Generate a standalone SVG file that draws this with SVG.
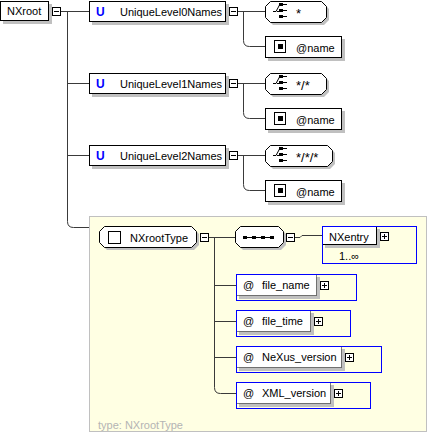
<svg xmlns="http://www.w3.org/2000/svg" width="429" height="434" viewBox="0 0 429 434">
<style>
text{font-family:"Liberation Sans",Arial,sans-serif;font-size:11px;fill:#000}
.box{fill:#fff;stroke:#000;stroke-width:1}
.sh{fill:#c0c0c0}
.blue{fill:none;stroke:#0000ff;stroke-width:1}
.inner{fill:#fff;stroke:#000;stroke-width:1;stroke-dasharray:1,1}
.con{fill:none;stroke:#3a3a3a;stroke-width:1}
.pm{fill:#fff;stroke:#000;stroke-width:1}
.pml{stroke:#000;stroke-width:1}
.u{font-weight:bold;fill:#0000ff;font-size:12px}
.gray{fill:#b4b4b4}
.xp{font-size:13px}
</style>
<defs>
<g id="minus"><rect class="pm" x="0.5" y="0.5" width="8" height="8"/><line class="pml" x1="2" y1="4.5" x2="7" y2="4.5"/></g>
<g id="plus"><rect class="pm" x="0.5" y="0.5" width="8" height="8"/><line class="pml" x1="2" y1="4.5" x2="7" y2="4.5"/><line class="pml" x1="4.5" y1="2" x2="4.5" y2="7"/></g>
<g id="selicon" fill="#000"><rect x="14" y="3" width="4" height="3"/><rect x="14" y="9" width="4" height="3"/><rect x="14" y="15" width="4" height="3"/><path d="M8,11.5 H11 L14.5,5 M12,11.5 H14 M18,4.5 H22 M18,10.5 H22 M18,16.5 H22" stroke="#000" fill="none"/></g>
<g id="fieldicon"><rect x="0.5" y="0.5" width="11" height="12" fill="#fff" stroke="#000"/><rect x="4" y="4" width="5" height="5" fill="#000"/></g>
</defs>

<!-- type panel -->
<rect x="89.5" y="216.5" width="337" height="215" fill="#ffffe3" stroke="#c0c0c0"/>
<text class="gray" x="98" y="429">type: NXrootType</text>

<g id="connectors">
<path class="con" d="M61,11.5 H89 M67.5,11.5 V221.5 Q67.5,227.5 73.5,227.5 H89 M67.5,83.5 H89 M67.5,155.5 H89"/>
<path class="con" d="M238,11.5 H265 M243.5,11.5 V40.5 Q243.5,46.5 249.5,46.5 H265"/>
<path class="con" d="M238,83.5 H265 M243.5,83.5 V112.5 Q243.5,118.5 249.5,118.5 H265"/>
<path class="con" d="M238,155.5 H265 M243.5,155.5 V184.5 Q243.5,190.5 249.5,190.5 H265"/>
<path class="con" d="M209,237.5 H235 M214.5,237.5 V387.5 Q214.5,393.5 220.5,393.5 H236 M214.5,285.5 H236 M214.5,321.5 H236 M214.5,357.5 H236"/>
<path class="con" d="M295,237.5 H300 L302,235.5 H322"/>
</g>

<g id="NXroot">
<rect class="sh" x="3" y="4" width="49" height="20"/>
<rect class="box" x="0.5" y="1.5" width="48" height="19"/>
<text x="7" y="14.5">NXroot</text>
<use href="#minus" x="52" y="7"/>
</g>

<g id="UniqueLevel0Names">
<rect class="sh" x="92" y="4" width="137" height="21"/>
<rect class="box" x="89.5" y="1.5" width="136" height="20"/>
<text class="u" x="96" y="16">U</text>
<text x="120" y="15.5">UniqueLevel0Names</text>
<use href="#minus" x="229" y="7"/>
</g>
<g id="sel0">
<polygon class="sh" points="273,4 324,4 329,9 329,20 324,25 273,25 268,20 268,9"/>
<polygon class="box" points="270.5,1.5 321.5,1.5 326.5,6.5 326.5,17.5 321.5,22.5 270.5,22.5 265.5,17.5 265.5,6.5"/>
<use href="#selicon" x="265" y="0"/>
<text class="xp" x="296" y="18">*</text>
</g>
<g id="field0">
<rect class="sh" x="268" y="39" width="77" height="22"/>
<rect class="box" x="265.5" y="36.5" width="76" height="21"/>
<use href="#fieldicon" x="274" y="40"/>
<text x="296" y="51.5">@name</text>
</g>

<g id="UniqueLevel1Names">
<rect class="sh" x="92" y="76" width="137" height="21"/>
<rect class="box" x="89.5" y="73.5" width="136" height="20"/>
<text class="u" x="96" y="88">U</text>
<text x="120" y="87.5">UniqueLevel1Names</text>
<use href="#minus" x="229" y="79"/>
</g>
<g id="sel1">
<polygon class="sh" points="273,76 324,76 329,81 329,92 324,97 273,97 268,92 268,81"/>
<polygon class="box" points="270.5,73.5 321.5,73.5 326.5,78.5 326.5,89.5 321.5,94.5 270.5,94.5 265.5,89.5 265.5,78.5"/>
<use href="#selicon" x="265" y="72"/>
<text class="xp" x="296" y="90">*/*</text>
</g>
<g id="field1">
<rect class="sh" x="268" y="111" width="77" height="22"/>
<rect class="box" x="265.5" y="108.5" width="76" height="21"/>
<use href="#fieldicon" x="274" y="112"/>
<text x="296" y="123.5">@name</text>
</g>

<g id="UniqueLevel2Names">
<rect class="sh" x="92" y="148" width="137" height="21"/>
<rect class="box" x="89.5" y="145.5" width="136" height="20"/>
<text class="u" x="96" y="160">U</text>
<text x="120" y="159.5">UniqueLevel2Names</text>
<use href="#minus" x="229" y="151"/>
</g>
<g id="sel2">
<polygon class="sh" points="273,148 330,148 335,153 335,164 330,169 273,169 268,164 268,153"/>
<polygon class="box" points="270.5,145.5 327.5,145.5 332.5,150.5 332.5,161.5 327.5,166.5 270.5,166.5 265.5,161.5 265.5,150.5"/>
<use href="#selicon" x="265" y="144"/>
<text class="xp" x="296" y="162">*/*/*</text>
</g>
<g id="field2">
<rect class="sh" x="268" y="183" width="77" height="22"/>
<rect class="box" x="265.5" y="180.5" width="76" height="21"/>
<use href="#fieldicon" x="274" y="184"/>
<text x="296" y="195.5">@name</text>
</g>

<g id="NXrootType">
<polygon class="sh" points="107,229 194,229 199,234 199,245 194,250 107,250 102,245 102,234"/>
<polygon class="box" points="104.5,226.5 191.5,226.5 196.5,231.5 196.5,242.5 191.5,247.5 104.5,247.5 99.5,242.5 99.5,231.5"/>
<rect x="108.5" y="231.5" width="12" height="12" fill="#fff" stroke="#000"/>
<text x="130" y="241.5">NXrootType</text>
<use href="#minus" x="200" y="233"/>
</g>

<g id="sequence">
<polygon class="sh" points="243,229 281,229 286,234 286,245 281,250 243,250 238,245 238,234"/>
<polygon class="box" points="240.5,226.5 278.5,226.5 283.5,231.5 283.5,242.5 278.5,247.5 240.5,247.5 235.5,242.5 235.5,231.5"/>
<line x1="244" y1="237.5" x2="274" y2="237.5" stroke="#000"/>
<rect x="243" y="236" width="4" height="3" fill="#000"/>
<rect x="252" y="236" width="4" height="3" fill="#000"/>
<rect x="261" y="236" width="4" height="3" fill="#000"/>
<rect x="270" y="236" width="4" height="3" fill="#000"/>
<use href="#minus" x="286" y="233"/>
</g>

<g id="NXentry">
<rect class="sh" x="325" y="229" width="55" height="19"/>
<rect class="box" x="322.5" y="226.5" width="54" height="18"/>
<rect class="blue" x="322.5" y="226.5" width="94" height="37"/>
<text x="329" y="240.5">NXentry</text>
<use href="#plus" x="380" y="232"/>
<text x="339" y="260">1..∞</text>
</g>

<g id="file_name">
<rect class="sh" x="239" y="277" width="81" height="22"/>
<rect class="inner" x="236.5" y="274.5" width="80" height="21"/>
<rect class="blue" x="236.5" y="274.5" width="120" height="26"/>
<text x="243" y="289">@</text>
<text x="262" y="289">file_name</text>
<use href="#plus" x="320" y="281"/>
</g>

<g id="file_time">
<rect class="sh" x="239" y="313" width="75" height="22"/>
<rect class="inner" x="236.5" y="310.5" width="74" height="21"/>
<rect class="blue" x="236.5" y="310.5" width="114" height="26"/>
<text x="243" y="325">@</text>
<text x="262" y="325">file_time</text>
<use href="#plus" x="314" y="317"/>
</g>

<g id="NeXus_version">
<rect class="sh" x="239" y="349" width="106" height="22"/>
<rect class="inner" x="236.5" y="346.5" width="105" height="21"/>
<rect class="blue" x="236.5" y="346.5" width="145" height="26"/>
<text x="243" y="361">@</text>
<text x="262" y="361">NeXus_version</text>
<use href="#plus" x="345" y="353"/>
</g>

<g id="XML_version">
<rect class="sh" x="239" y="385" width="95" height="22"/>
<rect class="inner" x="236.5" y="382.5" width="94" height="21"/>
<rect class="blue" x="236.5" y="382.5" width="134" height="26"/>
<text x="243" y="397">@</text>
<text x="262" y="397">XML_version</text>
<use href="#plus" x="334" y="389"/>
</g>
</svg>
